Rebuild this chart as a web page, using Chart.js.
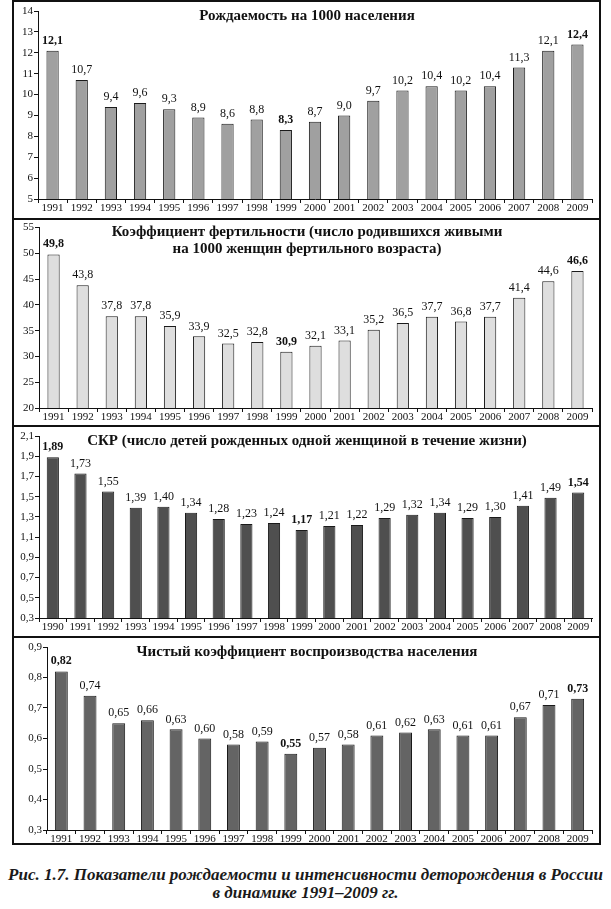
<!DOCTYPE html>
<html lang="ru">
<head>
<meta charset="utf-8">
<title>Показатели рождаемости</title>
<script src="https://cdn.jsdelivr.net/npm/chart.js@4.4.1/dist/chart.umd.min.js"></script>
<style>
  html, body { margin: 0; padding: 0; background: #fff; }
  body { width: 611px; height: 909px; position: relative; overflow: hidden; }
  .frame { position: absolute; left: 12px; top: 0; width: 585px; border: 2px solid #111; }
  .panel { position: relative; border-bottom: 2px solid #111; }
  .panel:last-child { border-bottom: none; }
  .panel canvas { display: block; }
  .caption {
    position: absolute; left: 0; top: 866px; width: 611px;
    text-align: center; white-space: nowrap; color: #1a1a1a;
    font: italic bold 17px 'Liberation Serif', 'Times New Roman', serif;
    line-height: 18px;
  }
</style>
</head>
<body>
<div class="frame">
  <div class="panel"><canvas id="birthChart" width="585" height="216"></canvas></div>
  <div class="panel"><canvas id="fertChart" width="585" height="205"></canvas></div>
  <div class="panel"><canvas id="tfrChart" width="585" height="209"></canvas></div>
  <div class="panel"><canvas id="netChart" width="585" height="205"></canvas></div>
</div>
<div class="caption">Рис. 1.7. Показатели рождаемости и интенсивности деторождения в России<br>в динамике 1991–2009 гг.</div>

<script>
// categories
const years91 = ['1991', '1992', '1993', '1994', '1995', '1996', '1997', '1998', '1999', '2000',
  '2001', '2002', '2003', '2004', '2005', '2006', '2007', '2008', '2009'];
const years90 = ['1990'].concat(years91);

// series values
const birthRate = [12.1, 10.7, 9.4, 9.6, 9.3, 8.9, 8.6, 8.8, 8.3, 8.7, 9.0, 9.7, 10.2, 10.4, 10.2, 10.4, 11.3, 12.1, 12.4];
const fertility = [49.8, 43.8, 37.8, 37.8, 35.9, 33.9, 32.5, 32.8, 30.9, 32.1, 33.1, 35.2, 36.5, 37.7, 36.8, 37.7, 41.4, 44.6, 46.6];
const tfr = [1.89, 1.73, 1.55, 1.39, 1.40, 1.34, 1.28, 1.23, 1.24, 1.17, 1.21, 1.22, 1.29, 1.32, 1.34, 1.29, 1.30, 1.41, 1.49, 1.54];
const netRate = [0.82, 0.74, 0.65, 0.66, 0.63, 0.60, 0.58, 0.59, 0.55, 0.57, 0.58, 0.61, 0.62, 0.63, 0.61, 0.61, 0.67, 0.71, 0.73];

// which value labels are printed in bold (first, lowest, last)
const birthBold = [0, 8, 18];
const fertBold = [0, 8, 18];
const tfrBold = [0, 9, 19];
const netBold = [0, 8, 18];

// y axis ranges: [min, max, step]
const birthAxis = [5, 14, 1];
const fertAxis = [20, 55, 5];
const tfrAxis = [0.3, 2.1, 0.2];
const netAxis = [0.3, 0.9, 0.1];

const FONT = "'Liberation Serif', 'Times New Roman', serif";
const INK = '#111';

const fmt = (v, d) => v.toFixed(d).replace('.', ',');

// draws value labels above bars and the panel title inside the plot
const panelText = {
  id: 'panelText',
  afterDatasetsDraw(chart, args, opts) {
    const ctx = chart.ctx;
    const values = chart.data.datasets[0].data;
    ctx.save();
    ctx.fillStyle = INK;
    ctx.textAlign = 'center';
    ctx.textBaseline = 'bottom';
    chart.getDatasetMeta(0).data.forEach((bar, i) => {
      ctx.font = (opts.bold.includes(i) ? 'bold ' : '') + '12px ' + FONT;
      ctx.fillText(fmt(values[i], opts.decimals), bar.x, bar.y - 4);
    });
    ctx.font = 'bold 15px ' + FONT;
    ctx.textBaseline = 'middle';
    opts.title.forEach((line, k) => ctx.fillText(line, 293, opts.titleY[k]));
    ctx.restore();
  }
};

function makeChart(id, p) {
  return new Chart(document.getElementById(id), {
    type: 'bar',
    data: {
      labels: p.labels,
      datasets: [{
        data: p.values,
        backgroundColor: p.color,
        borderColor: '#1a1a1a',
        borderWidth: 1,
        barPercentage: p.barPct,
        categoryPercentage: 1
      }]
    },
    options: {
      responsive: false,
      animation: false,
      layout: { padding: { top: p.top, right: 7, left: 0, bottom: 0 } },
      plugins: {
        legend: { display: false },
        tooltip: { enabled: false },
        panelText: { bold: p.bold, decimals: p.decimals, title: p.title, titleY: p.titleY }
      },
      scales: {
        x: {
          afterFit: s => { s.height = p.xHeight; },
          grid: { drawOnChartArea: false, offset: true, tickLength: 4, color: INK },
          border: { color: INK, width: 1 },
          ticks: { color: INK, padding: -1, autoSkip: false, maxRotation: 0, font: { family: FONT, size: 11 } }
        },
        y: {
          min: p.axis[0],
          max: p.axis[1],
          afterFit: s => { s.width = p.yWidth; },
          grid: { drawOnChartArea: false, tickLength: 4, color: INK },
          border: { color: INK, width: 1 },
          ticks: {
            stepSize: p.axis[2],
            color: INK,
            padding: 1,
            font: { family: FONT, size: 11 },
            callback: v => fmt(v, p.tickDecimals)
          }
        }
      }
    },
    plugins: [panelText]
  });
}

makeChart('birthChart', {
  labels: years91, values: birthRate, bold: birthBold, axis: birthAxis,
  color: '#a0a0a0', decimals: 1, tickDecimals: 0, barPct: 0.42,
  title: ['Рождаемость на 1000 населения'], titleY: [14],
  top: 9, xHeight: 19, yWidth: 24
});

makeChart('fertChart', {
  labels: years91, values: fertility, bold: fertBold, axis: fertAxis,
  color: '#dedede', decimals: 1, tickDecimals: 0, barPct: 0.42,
  title: ['Коэффициент фертильности (число родившихся живыми', 'на 1000 женщин фертильного возраста)'],
  titleY: [12, 29],
  top: 7, xHeight: 17, yWidth: 25
});

makeChart('tfrChart', {
  labels: years90, values: tfr, bold: tfrBold, axis: tfrAxis,
  color: '#4f4f4f', decimals: 2, tickDecimals: 1, barPct: 0.44,
  title: ['СКР (число детей рожденных одной женщиной в течение жизни)'], titleY: [14],
  top: 9, xHeight: 18, yWidth: 25
});

makeChart('netChart', {
  labels: years91, values: netRate, bold: netBold, axis: netAxis,
  color: '#646464', decimals: 2, tickDecimals: 1, barPct: 0.45,
  title: ['Чистый коэффициент воспроизводства населения'], titleY: [14],
  top: 9, xHeight: 13, yWidth: 33
});
</script>
</body>
</html>
